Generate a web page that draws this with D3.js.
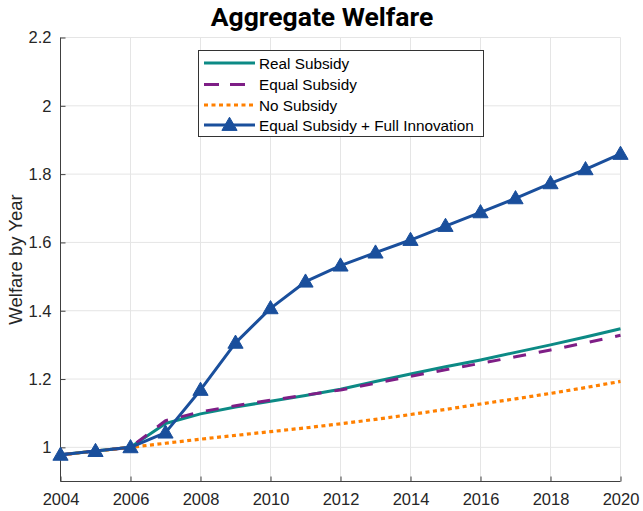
<!DOCTYPE html>
<html>
<head>
<meta charset="utf-8">
<script src="https://cdn.jsdelivr.net/npm/d3@7"></script>
<style>
  html, body { margin: 0; padding: 0; background: #fff; }
  svg { display: block; }
  text { font-family: "Liberation Sans", Arial, sans-serif; }
</style>
</head>
<body>
<script>
// Years on the horizontal axis
const years = [2004, 2005, 2006, 2007, 2008, 2009, 2010, 2011, 2012, 2013, 2014, 2015, 2016, 2017, 2018, 2019, 2020];

// Aggregate welfare by year for each policy scenario
const realSubsidy  = [0.978, 0.989, 1.000, 1.070, 1.098, 1.118, 1.135, 1.152, 1.170, 1.193, 1.215, 1.236, 1.256, 1.278, 1.300, 1.323, 1.347];
const equalSubsidy = [0.978, 0.989, 1.000, 1.078, 1.104, 1.122, 1.138, 1.153, 1.168, 1.188, 1.208, 1.227, 1.246, 1.265, 1.285, 1.306, 1.328];
const noSubsidy    = [0.978, 0.989, 1.000, 1.012, 1.024, 1.035, 1.046, 1.057, 1.069, 1.082, 1.096, 1.111, 1.127, 1.142, 1.158, 1.175, 1.193];
const fullInnov    = [0.978, 0.989, 1.000, 1.043, 1.168, 1.306, 1.407, 1.485, 1.532, 1.570, 1.607, 1.648, 1.688, 1.729, 1.773, 1.814, 1.859];

const seriesNames = ["Real Subsidy", "Equal Subsidy", "No Subsidy", "Equal Subsidy + Full Innovation"];

// Tick values
const xTicks = [2004, 2006, 2008, 2010, 2012, 2014, 2016, 2018, 2020];
const yTicks = [1, 1.2, 1.4, 1.6, 1.8, 2, 2.2];

const W = 643, H = 511;
const svg = d3.select("body").append("svg").attr("width", W).attr("height", H);

const x = d3.scaleLinear().domain([2004, 2020]).range([60.5, 620.5]);
const y = d3.scaleLinear().domain([0.9, 2.2]).range([481.5, 37.5]);

// Grid
const grid = svg.append("g");
grid.selectAll("line.vx").data(xTicks).join("line")
  .attr("x1", d => x(d)).attr("x2", d => x(d))
  .attr("y1", y(0.9)).attr("y2", y(2.2))
  .attr("stroke", "#e5e5e5").attr("stroke-width", 1);
grid.selectAll("line.hy").data(yTicks).join("line")
  .attr("x1", x(2004)).attr("x2", x(2020))
  .attr("y1", d => y(d)).attr("y2", d => y(d))
  .attr("stroke", "#e5e5e5").attr("stroke-width", 1);

// Axes (ticks drawn inside the plot)
const xAxis = d3.axisBottom(x).tickValues(xTicks).tickFormat(d3.format("d"))
  .tickSizeInner(-5).tickSizeOuter(0).tickPadding(12);
const yAxis = d3.axisLeft(y).tickValues(yTicks).tickFormat(d => String(d))
  .tickSizeInner(-5).tickSizeOuter(0).tickPadding(9);

const gx = svg.append("g").attr("transform", `translate(0,${y(0.9)})`).call(xAxis);
const gy = svg.append("g").attr("transform", `translate(${x(2004)},0)`).call(yAxis);
[gx, gy].forEach(g => {
  g.select(".domain").attr("stroke", "#404040").attr("stroke-width", 1);
  g.selectAll(".tick line").attr("stroke", "#404040");
  g.selectAll(".tick text").attr("fill", "#262626").style("font-size", "16.5px")
    .style("font-family", "'Liberation Sans', Arial, sans-serif");
});
gy.select(".domain").attr("d", `M0,${y(2.2)}V${y(0.9)}`);
gx.select(".domain").attr("d", `M${x(2004)},0H${x(2020)}`);

// Series
const line = d3.line().x((d, i) => x(years[i])).y(d => y(d));

const styles = [
  { data: realSubsidy,  color: "#0c8a85", dash: null,    width: 3 },
  { data: equalSubsidy, color: "#7e1e86", dash: "13,13", width: 3 },
  { data: noSubsidy,    color: "#ff8000", dash: "4,3.5", width: 3.2 },
  { data: fullInnov,    color: "#1a4f9c", dash: null,    width: 3 }
];

const plot = svg.append("g");
styles.forEach(s => {
  plot.append("path").datum(s.data)
    .attr("d", line)
    .attr("fill", "none")
    .attr("stroke", s.color)
    .attr("stroke-width", s.width)
    .attr("stroke-dasharray", s.dash)
    .attr("stroke-linejoin", "round");
});

// Triangle markers for the full innovation scenario
const tri = d3.symbol().type(d3.symbolTriangle).size(100);
plot.selectAll("path.mk").data(fullInnov).join("path")
  .attr("class", "mk")
  .attr("d", tri)
  .attr("transform", (d, i) => `translate(${x(years[i])},${y(d) + 1})`)
  .attr("fill", "#1a4f9c")
  .attr("stroke", "#1a4f9c")
  .attr("stroke-width", 1);

// Title
svg.append("text")
  .attr("x", 322).attr("y", 26)
  .attr("text-anchor", "middle")
  .style("font-family", "Roboto, 'Liberation Sans', sans-serif")
  .style("font-weight", "bold")
  .style("font-size", "26.5px")
  .attr("fill", "#000")
  .text("Aggregate Welfare");

// Y axis label
svg.append("text")
  .attr("transform", `translate(15,${(y(0.9) + y(2.2)) / 2}) rotate(-90)`)
  .attr("text-anchor", "middle")
  .attr("dominant-baseline", "central")
  .style("font-size", "18.5px")
  .attr("fill", "#262626")
  .text("Welfare by Year");

// Legend
const lg = svg.append("g");
const lgX = 198.5, lgY = 50.5, lgW = 285, lgH = 86;
lg.append("rect").attr("x", lgX).attr("y", lgY).attr("width", lgW).attr("height", lgH)
  .attr("fill", "#fff").attr("stroke", "#333").attr("stroke-width", 1);
const rowY = [63, 84.5, 105, 125];
styles.forEach((s, i) => {
  lg.append("line")
    .attr("x1", 204).attr("x2", 255)
    .attr("y1", rowY[i]).attr("y2", rowY[i])
    .attr("stroke", s.color).attr("stroke-width", s.width)
    .attr("stroke-dasharray", i === 1 ? "15,11" : s.dash);
  lg.append("text")
    .attr("x", 259).attr("y", rowY[i])
    .attr("dominant-baseline", "central")
    .style("font-size", "15.3px")
    .attr("fill", "#000")
    .text(seriesNames[i]);
});
lg.append("path").attr("d", tri)
  .attr("transform", `translate(229.5,${rowY[3] + 1})`)
  .attr("fill", "#1a4f9c").attr("stroke", "#1a4f9c");
</script>
</body>
</html>
